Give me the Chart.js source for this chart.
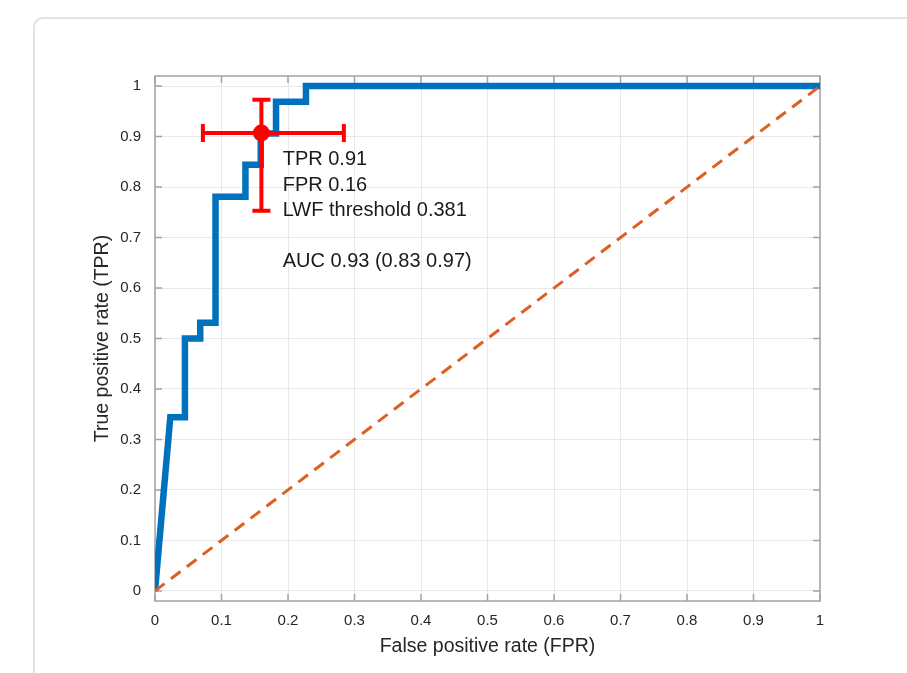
<!DOCTYPE html>
<html>
<head>
<meta charset="utf-8">
<script src="https://cdn.jsdelivr.net/npm/chart.js@4.4.1/dist/chart.umd.min.js"></script>
<style>
  html, body { margin: 0; padding: 0; background: #fff; overflow: hidden; }
  #card { position: absolute; left: 33px; top: 17px; width: 1000px; height: 800px;
          border: 2px solid #e2e2e2; border-radius: 10px; box-sizing: border-box; }
  #wrap { position: absolute; left: 0; top: 0; width: 907px; height: 673px; }
</style>
</head>
<body>
<div id="card"></div>
<div id="wrap"><canvas id="roc" width="907" height="673"></canvas></div>
<script>
// ROC curve
const rocFpr = [0, 0.023, 0.045, 0.045, 0.068, 0.068, 0.091, 0.091, 0.136, 0.136, 0.159, 0.159, 0.182, 0.182, 0.227, 0.227, 1];
const rocTpr = [0, 0.344, 0.344, 0.5, 0.5, 0.531, 0.531, 0.781, 0.781, 0.844, 0.844, 0.906, 0.906, 0.969, 0.969, 1, 1];
// chance line
const chanceFpr = [0, 1];
const chanceTpr = [0, 1];
// operating point + confidence bars
const opFpr = 0.16;
const opTpr = 0.907;
const fprCI = [0.072, 0.284];
const tprCI = [0.753, 0.973];
const noteLines = ['TPR 0.91', 'FPR 0.16', 'LWF threshold 0.381', '', 'AUC 0.93 (0.83 0.97)'];
// ticks
const xTicks = [0, 0.1, 0.2, 0.3, 0.4, 0.5, 0.6, 0.7, 0.8, 0.9, 1];
const xTickLabels = ['0', '0.1', '0.2', '0.3', '0.4', '0.5', '0.6', '0.7', '0.8', '0.9', '1'];
const yTicks = [0, 0.1, 0.2, 0.3, 0.4, 0.5, 0.6, 0.7, 0.8, 0.9, 1];
const yTickLabels = ['0', '0.1', '0.2', '0.3', '0.4', '0.5', '0.6', '0.7', '0.8', '0.9', '1'];

const FONT = "'Liberation Sans', Arial, Helvetica, sans-serif";
const TXT = '#262626';
const FRAME = '#a3a3a3';

function pts(xs, ys) {
  return xs.map((x, i) => ({ x: x, y: ys[i] }));
}

// box round the axes with little inward ticks, like matlab
const framePlugin = {
  id: 'frame',
  beforeDatasetsDraw(chart) {
    const { ctx, chartArea: a, scales } = chart;
    ctx.save();
    ctx.strokeStyle = FRAME;
    ctx.lineWidth = 1.5;
    ctx.beginPath();
    scales.x.ticks.forEach(t => {
      const px = scales.x.getPixelForValue(t.value);
      ctx.moveTo(px, a.bottom); ctx.lineTo(px, a.bottom - 7);
      ctx.moveTo(px, a.top); ctx.lineTo(px, a.top + 7);
    });
    scales.y.ticks.forEach(t => {
      const py = scales.y.getPixelForValue(t.value);
      ctx.moveTo(a.left, py); ctx.lineTo(a.left + 7, py);
      ctx.moveTo(a.right, py); ctx.lineTo(a.right - 7, py);
    });
    ctx.stroke();
    ctx.strokeRect(a.left, a.top, a.right - a.left, a.bottom - a.top);
    ctx.restore();
  }
};

// text next to the operating point
const notePlugin = {
  id: 'note',
  afterDatasetsDraw(chart) {
    const { ctx, scales } = chart;
    const px = scales.x.getPixelForValue(0.192);
    const py = scales.y.getPixelForValue(0.8436);
    ctx.save();
    ctx.fillStyle = '#1a1a1a';
    ctx.font = '20px ' + FONT;
    ctx.textAlign = 'left';
    ctx.textBaseline = 'alphabetic';
    noteLines.forEach((s, i) => {
      if (s) ctx.fillText(s, px, py + i * 25.5);
    });
    ctx.restore();
  }
};

new Chart(document.getElementById('roc'), {
  type: 'line',
  data: {
    datasets: [
      {
        data: [{ x: opFpr, y: opTpr }],
        showLine: false,
        pointStyle: 'circle',
        pointRadius: 8.5,
        backgroundColor: '#ff0000',
        borderColor: '#ff0000',
        borderWidth: 0
      },
      {
        data: [{ x: opFpr, y: tprCI[0] }, { x: opFpr, y: tprCI[1] }],
        borderColor: '#ff0000',
        borderWidth: 4,
        pointStyle: 'line',
        pointRadius: 9,
        pointBorderWidth: 4,
        pointRotation: 0
      },
      {
        data: [{ x: fprCI[0], y: opTpr }, { x: fprCI[1], y: opTpr }],
        borderColor: '#ff0000',
        borderWidth: 4,
        pointStyle: 'line',
        pointRadius: 9,
        pointBorderWidth: 4,
        pointRotation: 90
      },
      {
        data: pts(chanceFpr, chanceTpr),
        borderColor: '#DE5F22',
        borderWidth: 3,
        borderDash: [12, 8],
        pointRadius: 0
      },
      {
        data: pts(rocFpr, rocTpr),
        borderColor: '#0072BD',
        borderWidth: 6.5,
        borderJoinStyle: 'miter',
        pointRadius: 0
      }
    ]
  },
  options: {
    responsive: false,
    animation: false,
    devicePixelRatio: 1,
    layout: { padding: { left: 0, right: 87, top: 76, bottom: 0 } },
    plugins: { legend: { display: false }, tooltip: { enabled: false } },
    elements: { line: { tension: 0, fill: false } },
    scales: {
      x: {
        type: 'linear',
        min: 0,
        max: 1,
        afterBuildTicks: s => { s.ticks = xTicks.map(v => ({ value: v })); },
        afterFit: s => { s.height = 72; },
        grid: { color: '#e8e8e8', lineWidth: 1, drawTicks: false },
        border: { display: false },
        ticks: {
          padding: 11,
          color: TXT,
          autoSkip: false,
          maxRotation: 0,
          font: { family: FONT, size: 15 },
          callback: (v, i) => xTickLabels[i]
        },
        title: {
          display: true,
          text: 'False positive rate (FPR)',
          color: TXT,
          font: { family: FONT, size: 19.5 },
          padding: { top: 0, bottom: 15 }
        }
      },
      y: {
        type: 'linear',
        min: -0.02,
        max: 1.02,
        afterBuildTicks: s => { s.ticks = yTicks.map(v => ({ value: v })); },
        afterFit: s => { s.width = 155; },
        grid: { color: '#e8e8e8', lineWidth: 1, drawTicks: false },
        border: { display: false },
        ticks: {
          padding: 14,
          color: TXT,
          autoSkip: false,
          font: { family: FONT, size: 15 },
          callback: (v, i) => yTickLabels[i]
        },
        title: {
          display: true,
          text: 'True positive rate (TPR)',
          color: TXT,
          font: { family: FONT, size: 19.5 },
          padding: { top: 91, bottom: 0 }
        }
      }
    }
  },
  plugins: [framePlugin, notePlugin]
});
</script>
</body>
</html>
